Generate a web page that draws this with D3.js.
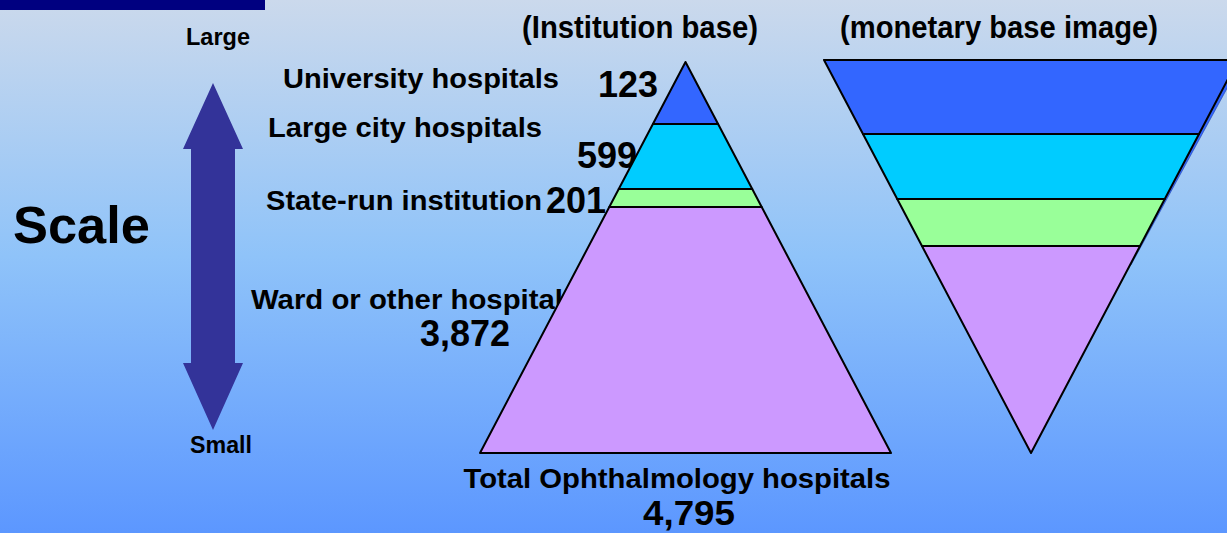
<!DOCTYPE html>
<html>
<head>
<meta charset="utf-8">
<script src="https://cdn.jsdelivr.net/npm/d3@7"></script>
<style>
  html, body { margin: 0; padding: 0; overflow: hidden; }
  text { font-family: "Liberation Sans", Arial, sans-serif; font-weight: bold; fill: #000; }
</style>
</head>
<body>
<svg id="chart"></svg>
<script>
// tiers, top of the pyramid first
const tiers = ["University hospitals", "Large city hospitals", "State-run institution", "Ward or other hospital"]
const counts = [123, 599, 201, 3872]
const total = 4795
// schematic layer depths (relative units)
const institutionDepth = [62, 65, 18, 246]
const monetaryDepth = [74, 65, 47, 207]
const tierColors = ["#3366ff", "#00ccff", "#99ff99", "#cc99ff"]

const width = 1227, height = 533
const fmt = d3.format(",")

const svg = d3.select("#chart").attr("width", width).attr("height", height)

// background gradient
const defs = svg.append("defs")
const grad = defs.append("linearGradient").attr("id", "bg")
    .attr("x1", 0).attr("y1", 0).attr("x2", 0).attr("y2", 1)
grad.append("stop").attr("offset", "0%").attr("stop-color", "#cbd9ec")
grad.append("stop").attr("offset", "48%").attr("stop-color", "#8fc3f9")
grad.append("stop").attr("offset", "100%").attr("stop-color", "#5c97ff")
svg.append("rect").attr("width", width).attr("height", height).attr("fill", "url(#bg)")

svg.append("rect").attr("x", 0).attr("y", 0).attr("width", 265).attr("height", 10).attr("fill", "#000080")

// double arrow (scale)
const arrowY = d3.scaleLinear().domain([0, 1]).range([83, 430])
const ax = 213
svg.append("path")
    .attr("d", d3.line()([
      [ax, arrowY(0)], [ax + 30, 149], [ax + 22, 149], [ax + 22, 363], [ax + 30, 363],
      [ax, arrowY(1)], [ax - 30, 363], [ax - 22, 363], [ax - 22, 149], [ax - 30, 149]
    ]) + "Z")
    .attr("fill", "#333399")

svg.append("text").attr("x", 186).attr("y", 45)
    .style("font-size", "23px").attr("textLength", 64).attr("lengthAdjust", "spacingAndGlyphs").text("Large")
svg.append("text").attr("x", 190).attr("y", 453)
    .style("font-size", "23px").attr("textLength", 62).attr("lengthAdjust", "spacingAndGlyphs").text("Small")
svg.append("text").attr("x", 13).attr("y", 243)
    .style("font-size", "52px").attr("textLength", 137).attr("lengthAdjust", "spacingAndGlyphs").text("Scale")

// titles
svg.append("text").attr("x", 522).attr("y", 38)
    .style("font-size", "31px").attr("textLength", 236).attr("lengthAdjust", "spacingAndGlyphs")
    .text("(Institution base)")
svg.append("text").attr("x", 840).attr("y", 38)
    .style("font-size", "31px").attr("textLength", 318).attr("lengthAdjust", "spacingAndGlyphs")
    .text("(monetary base image)")

// tier labels
const labelPos = [[283, 88, 276], [268, 137, 274], [266, 210, 276], [251, 309, 312]]
svg.selectAll(".tier").data(tiers).enter().append("text")
    .attr("class", "tier")
    .attr("x", (d, i) => labelPos[i][0]).attr("y", (d, i) => labelPos[i][1])
    .attr("textLength", (d, i) => labelPos[i][2]).attr("lengthAdjust", "spacingAndGlyphs")
    .style("font-size", "27px")
    .text(d => d)

const countPos = [[598, 97], [577, 168], [546, 213], [420, 346]]
svg.selectAll(".count").data(counts).enter().append("text")
    .attr("class", "count")
    .attr("x", (d, i) => countPos[i][0]).attr("y", (d, i) => countPos[i][1])
    .style("font-size", "36px")
    .text(d => fmt(d))

// institution pyramid
const leftCum = d3.cumsum([0].concat(institutionDepth))
const leftSum = d3.sum(institutionDepth)
const ly = d3.scaleLinear().domain([0, leftSum]).range([62, 453])
const lw = d3.scaleLinear().domain([0, leftSum]).range([0, 205.5])
const lcx = 685.5

svg.append("g").selectAll("path").data(tiers).enter().append("path")
    .attr("d", (d, i) => {
      const a = leftCum[i], b = leftCum[i + 1]
      return d3.line()([
        [lcx - lw(a), ly(a)], [lcx + lw(a), ly(a)],
        [lcx + lw(b), ly(b)], [lcx - lw(b), ly(b)]
      ]) + "Z"
    })
    .attr("fill", (d, i) => tierColors[i])
    .attr("stroke", "#000").attr("stroke-width", 2).attr("stroke-linejoin", "round")

svg.append("text").attr("x", 677).attr("y", 488).attr("text-anchor", "middle")
    .style("font-size", "27px").attr("textLength", 427).attr("lengthAdjust", "spacingAndGlyphs")
    .text("Total Ophthalmology hospitals")
svg.append("text").attr("x", 689).attr("y", 525).attr("text-anchor", "middle")
    .style("font-size", "35px").attr("textLength", 92).attr("lengthAdjust", "spacingAndGlyphs")
    .text(fmt(total))

// monetary (inverted) pyramid
const rightCum = d3.cumsum([0].concat(monetaryDepth))
const rightSum = d3.sum(monetaryDepth)
const ry = d3.scaleLinear().domain([0, rightSum]).range([60, 453])
const rw = d3.scaleLinear().domain([0, rightSum]).range([207, 0])
const rcx = 1031

// side face sliver on the right
const sideEnd = 205
svg.append("path")
    .attr("d", d3.line()([
      [rcx + rw(0) - 2, ry(0) - 1], [rcx + rw(0) + 5, ry(0) - 1],
      [rcx + rw(sideEnd) + 1, ry(sideEnd)], [rcx + rw(sideEnd) - 2, ry(sideEnd)]
    ]) + "Z")
    .attr("fill", "#3366ff").attr("stroke", "#2244aa").attr("stroke-width", 0.6)

svg.append("g").selectAll("path").data(tiers).enter().append("path")
    .attr("d", (d, i) => {
      const a = rightCum[i], b = rightCum[i + 1]
      return d3.line()([
        [rcx - rw(a), ry(a)], [rcx + rw(a), ry(a)],
        [rcx + rw(b), ry(b)], [rcx - rw(b), ry(b)]
      ]) + "Z"
    })
    .attr("fill", (d, i) => tierColors[i])
    .attr("stroke", "#000").attr("stroke-width", 2).attr("stroke-linejoin", "round")
</script>
</body>
</html>
